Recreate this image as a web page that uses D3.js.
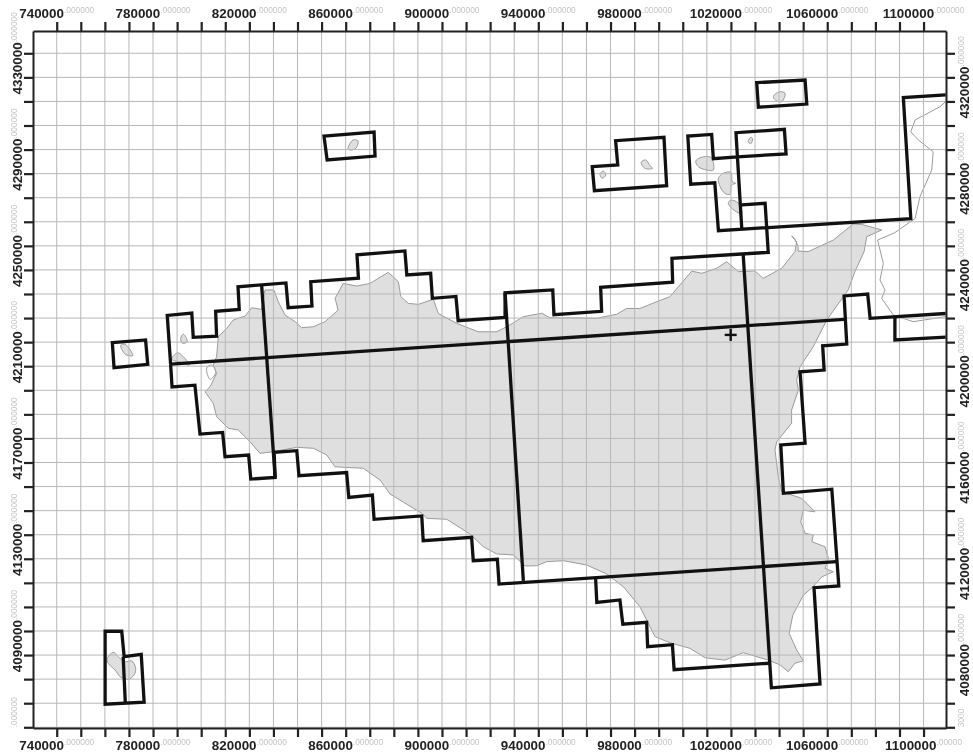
<!DOCTYPE html>
<html>
<head>
<meta charset="utf-8">
<script src="https://cdn.jsdelivr.net/npm/d3@7"></script>
<style>
html,body{margin:0;padding:0;background:#fff;}
svg{display:block;filter:blur(0.35px);}
</style>
</head>
<body>
<svg id="chart" width="973" height="753"></svg>
<script>
// All coordinates are map values in km (easting, northing).
const eastTicks = [740,750,760,770,780,790,800,810,820,830,840,850,860,870,880,890,900,910,920,930,940,950,960,970,980,990,1000,1010,1020,1030,1040,1050,1060,1070,1080,1090,1100];
const northTicks = [4050,4060,4070,4080,4090,4100,4110,4120,4130,4140,4150,4160,4170,4180,4190,4200,4210,4220,4230,4240,4250,4260,4270,4280,4290,4300,4310,4320,4330];
const eastLabels = [740,780,820,860,900,940,980,1020,1060,1100];
const leftLabels = [4090,4130,4170,4210,4250,4290,4330];
const rightLabels = [4080,4120,4160,4200,4240,4280,4320];

const sicily = [[807.1,4212.3],[810.6,4215.7],[813.3,4219.2],[818.2,4220.8],[821.0,4224.3],[825.1,4223.6],[826.5,4231.7],[830.2,4231.7],[832.0,4226.8],[834.8,4221.3],[839.0,4218.5],[841.7,4216.0],[846.6,4216.4],[851.4,4218.5],[856.9,4223.3],[855.6,4228.2],[859.0,4234.4],[864.6,4233.3],[870.1,4234.4],[877.7,4239.0],[881.9,4235.1],[882.9,4228.9],[886.0,4226.1],[890.2,4225.7],[896.4,4227.8],[898.5,4221.9],[906.1,4217.8],[915.1,4214.3],[922.7,4214.3],[927.5,4216.7],[933.8,4220.6],[941.4,4222.0],[944.9,4220.1],[954.5,4220.1],[964.3,4219.9],[972.6,4221.6],[976.7,4224.0],[982.2,4224.0],[989.2,4226.8],[994.7,4228.9],[1003.7,4239.5],[1007.9,4238.6],[1014.1,4240.7],[1018.2,4243.4],[1023.1,4239.3],[1030.0,4239.6],[1033.4,4236.5],[1041.1,4240.7],[1046.6,4247.6],[1047.3,4251.7],[1045.2,4254.1],[1046.2,4253.3],[1047.9,4249.9],[1047.9,4247.8],[1052.1,4247.6],[1062.5,4252.4],[1070.8,4259.1],[1074.3,4258.9],[1082.6,4256.6],[1076.4,4253.8],[1075.3,4247.6],[1071.5,4239.3],[1068.7,4231.7],[1059.8,4219.2],[1054.2,4208.1],[1048.7,4199.8],[1047.3,4194.3],[1048.0,4190.1],[1045.2,4181.8],[1045.2,4176.3],[1039.0,4168.6],[1038.3,4165.2],[1039.7,4154.1],[1041.1,4147.9],[1049.4,4145.1],[1054.9,4139.5],[1050.1,4140.2],[1049.0,4135.4],[1050.8,4130.6],[1054.2,4129.9],[1053.6,4127.1],[1059.1,4125.0],[1060.5,4120.2],[1059.1,4116.0],[1062.5,4114.6],[1057.7,4112.5],[1054.2,4108.4],[1050.1,4104.9],[1045.7,4096.6],[1044.2,4089.0],[1047.3,4082.1],[1050.1,4077.6],[1046.6,4076.6],[1043.8,4073.1],[1040.4,4075.9],[1035.5,4077.9],[1025.1,4081.0],[1017.5,4077.9],[1009.2,4078.9],[1003.0,4082.8],[995.4,4084.9],[988.5,4087.6],[985.0,4094.6],[982.2,4100.1],[975.3,4108.4],[968.4,4113.7],[960.1,4117.4],[950.4,4119.2],[943.5,4118.8],[939.3,4117.1],[934.5,4117.0],[929.6,4121.6],[922.7,4122.0],[917.2,4125.0],[911.6,4130.3],[902.0,4136.4],[893.7,4136.8],[891.6,4138.9],[884.0,4143.5],[878.4,4146.9],[874.3,4152.7],[867.3,4157.6],[855.6,4158.2],[852.1,4163.1],[846.6,4165.9],[839.7,4166.3],[830.0,4164.5],[824.4,4163.8],[820.3,4168.6],[815.4,4173.5],[811.3,4174.2],[806.4,4179.0],[805.0,4184.6],[801.6,4189.4],[803.7,4191.5],[806.4,4197.0],[805.0,4200.5],[806.4,4203.9]];
const marettimo = [[766.6,4208.8],[768.4,4209.1],[771.6,4204.4],[768.4,4205.0]];
const levanzo = [[791.5,4211.6],[792.6,4213.3],[794.2,4210.2],[792.2,4209.5]];
const favignana = [[787.8,4202.9],[790.1,4205.6],[792.6,4203.9],[795.1,4200.5],[791.2,4201.7]];
const ustica = [[861.0,4290.6],[863.1,4294.0],[865.1,4293.6],[864.3,4290.6],[861.8,4289.8]];
const alicudi = [[965.6,4279.7],[967.0,4281.1],[968.0,4279.4],[966.6,4278.1]];
const filicudi = [[982.7,4284.7],[984.6,4285.7],[986.4,4283.3],[987.5,4282.2],[984.3,4282.2]];
const salina = [[1005.4,4285.2],[1007.2,4286.6],[1011.7,4286.8],[1012.7,4281.5],[1009.9,4281.5],[1006.5,4282.9]];
const lipari = [[1014.8,4278.1],[1016.8,4280.1],[1020.0,4280.6],[1020.6,4276.6],[1022.0,4276.0],[1020.3,4275.3],[1019.6,4271.4],[1017.5,4271.8],[1015.5,4274.6]];
const vulcano = [[1018.9,4267.7],[1020.0,4269.0],[1023.1,4267.7],[1024.5,4263.5],[1021.7,4264.5]];
const panarea = [[1027.2,4293.3],[1028.3,4295.1],[1029.0,4294.4],[1028.2,4292.4]];
const stromboli = [[1037.6,4312.0],[1040.1,4314.0],[1042.5,4313.4],[1041.1,4309.9],[1039.0,4310.2]];
const pantelleria = [[761.0,4078.6],[763.5,4081.1],[766.3,4078.6],[768.4,4077.2],[771.1,4077.6],[772.8,4074.5],[772.1,4071.7],[769.7,4069.9],[766.6,4070.8],[764.2,4073.8],[761.4,4076.6]];
const lagoon = [[802.3,4199.3],[804.4,4200.5],[806.0,4197.3],[803.7,4194.5]];
const calabria = [[1109.2,4309.9],[1106.8,4307.8],[1096.5,4302.3],[1094.7,4297.4],[1097.8,4294.0],[1104.0,4289.1],[1103.4,4281.5],[1098.5,4270.4],[1096.5,4261.4],[1088.1,4255.5],[1080.9,4252.4],[1083.3,4242.7],[1081.9,4235.8],[1084.0,4231.7],[1082.6,4228.2],[1087.4,4221.3],[1095.7,4218.5],[1109.2,4220.6]];

const northBoundary = [[787.3,4200.9],[785.9,4221.1],[796.1,4222.1],[796.7,4212.0],[806.4,4212.5],[806.0,4222.8],[815.8,4223.6],[815.3,4233.0],[835.2,4234.6],[836.1,4224.3],[846.0,4225.0],[845.5,4235.1],[865.3,4236.6],[864.7,4246.3],[884.6,4247.9],[885.4,4237.9],[895.3,4238.6],[896.0,4228.2],[905.8,4229.0],[906.7,4218.9],[926.2,4220.3],[926.2,4230.5],[946.0,4231.7],[946.5,4221.4],[966.3,4222.8],[965.9,4232.8],[995.8,4234.9],[995.5,4244.8],[1035.5,4247.3],[1034.2,4267.7],[1024.5,4267.0]];
const aeolianBoundary = [[1109.2,4312.7],[1091.6,4311.6],[1094.7,4261.3],[1014.8,4256.3],[1013.3,4276.2],[1003.3,4275.6],[1002.1,4295.6],[1012.0,4296.3],[1012.7,4286.2],[1022.7,4287.0],[1042.9,4288.2],[1042.2,4298.4],[1022.1,4297.0],[1022.7,4287.0],[1024.5,4257.3]];
const eastBoundary = [[1109.2,4221.9],[1077.8,4219.9],[1076.8,4230.0],[1067.0,4229.2],[1068.1,4209.2],[1058.1,4208.5],[1058.7,4198.4],[1048.7,4197.7],[1050.8,4168.0],[1040.7,4167.3],[1041.8,4147.2],[1061.9,4148.9],[1064.8,4108.7],[1054.5,4108.0],[1057.0,4068.0],[1036.8,4066.4],[1025.1,4246.2]];
const strait = [[1109.2,4212.1],[1088.1,4210.9],[1088.1,4220.6]];
const southBoundary = [[787.3,4200.9],[787.9,4191.4],[797.4,4192.1],[799.5,4171.8],[808.9,4172.5],[809.9,4162.4],[819.7,4163.1],[820.6,4153.1],[830.7,4153.8],[830.3,4164.2],[839.7,4164.9],[840.6,4154.5],[860.4,4155.8],[861.3,4145.5],[871.1,4146.5],[871.8,4136.4],[891.6,4137.8],[892.2,4127.5],[912.3,4128.9],[913.0,4119.2],[923.0,4119.8],[923.7,4109.5],[1063.9,4118.8]];
const southSteps = [[963.8,4111.9],[964.3,4101.9],[973.9,4102.9],[975.1,4092.8],[985.0,4093.6],[985.4,4083.5],[995.7,4084.3],[996.4,4073.9],[1035.8,4076.6]];
const centralEW = [[787.3,4200.9],[1067.0,4219.5]];
const westNS = [[825.1,4233.7],[830.7,4153.8]];
const middleNS = [[926.2,4230.5],[933.8,4110.8]];
const boxMarettimo = [[763.1,4209.8],[776.9,4210.9],[777.8,4200.8],[763.8,4199.4]];
const boxUstica = [[851.0,4295.6],[871.8,4297.3],[872.2,4287.3],[852.3,4285.7]];
const boxAlicudi = [[962.4,4282.9],[973.0,4283.6],[972.1,4293.7],[992.2,4295.1],[993.3,4275.0],[963.3,4272.9]];
const boxStromboli = [[1030.7,4317.8],[1050.8,4318.9],[1051.5,4308.9],[1031.4,4307.6]];
const boxPantelleria = [[760.1,4089.9],[767.0,4089.9],[768.0,4079.3],[775.1,4080.3],[776.3,4060.4],[760.1,4059.6]];
const pantelleriaDivide = [[767.6,4079.3],[768.5,4059.9]];
const marker = [1019.9,4213.0];

const islands = [marettimo,levanzo,favignana,ustica,alicudi,filicudi,salina,lipari,vulcano,panarea,stromboli,pantelleria];
const openLines = [northBoundary,aeolianBoundary,eastBoundary,strait,southBoundary,southSteps,centralEW,westNS,middleNS,pantelleriaDivide];
const closedLines = [boxMarettimo,boxUstica,boxAlicudi,boxStromboli,boxPantelleria];

const svg = d3.select('#chart');
const L=33,R=946,T=31,B=728;
const x = d3.scaleLinear().domain([730.15,1109.32]).range([L,R]);
const y = d3.scaleLinear().domain([4339.26,4049.7]).range([T,B]);
const line = d3.line().x(d=>x(d[0])).y(d=>y(d[1]));
const closed = pts => line(pts)+'Z';
const blob = d3.line().x(d=>x(d[0])).y(d=>y(d[1])).curve(d3.curveCatmullRomClosed);

// land
svg.append('path').attr('d',closed(sicily)).attr('fill','#dfdfdf').attr('stroke','#9a9a9a').attr('stroke-width',1);
svg.append('g').selectAll('path').data(islands).join('path')
  .attr('d',blob).attr('fill','#dfdfdf').attr('stroke','#9a9a9a').attr('stroke-width',1);
svg.append('path').attr('d',blob(lagoon)).attr('fill','#fff').attr('stroke','#9a9a9a').attr('stroke-width',1);
svg.append('path').attr('d',line(calabria)).attr('fill','none').attr('stroke','#9a9a9a').attr('stroke-width',1);

// grid
const grid = svg.append('g').attr('stroke','#b8b8b8').attr('stroke-width',1);
grid.selectAll('.v').data(eastTicks).join('line').attr('class','v')
  .attr('x1',d=>x(d)).attr('x2',d=>x(d)).attr('y1',T).attr('y2',B);
grid.selectAll('.h').data(northTicks).join('line').attr('class','h')
  .attr('y1',d=>y(d)).attr('y2',d=>y(d)).attr('x1',L).attr('x2',R);

// boundaries
const bounds = svg.append('g').attr('fill','none').attr('stroke','#111').attr('stroke-width',3.3).attr('stroke-linejoin','miter');
bounds.selectAll('.o').data(openLines).join('path').attr('class','o').attr('d',line);
bounds.selectAll('.c').data(closedLines).join('path').attr('class','c').attr('d',closed);

// marker
const m = svg.append('g').attr('stroke','#111').attr('stroke-width',2.4);
m.append('line').attr('x1',x(marker[0])-6).attr('x2',x(marker[0])+6).attr('y1',y(marker[1])).attr('y2',y(marker[1]));
m.append('line').attr('x1',x(marker[0])).attr('x2',x(marker[0])).attr('y1',y(marker[1])-6).attr('y2',y(marker[1])+6);

// axes
function styleAxis(g){
  g.select('.domain').attr('stroke','#222').attr('stroke-width',2);
  g.selectAll('.tick line').attr('stroke','#222').attr('stroke-width',2.2);
  g.selectAll('.tick text').remove();
}
svg.append('g').attr('transform',`translate(0,${T})`).call(d3.axisTop(x).tickValues(eastTicks).tickSizeInner(9).tickSizeOuter(0)).call(styleAxis);
svg.append('g').attr('transform',`translate(0,${B})`).call(d3.axisBottom(x).tickValues(eastTicks).tickSizeInner(9).tickSizeOuter(0)).call(styleAxis);
svg.append('g').attr('transform',`translate(${L},0)`).call(d3.axisLeft(y).tickValues(northTicks).tickSizeInner(9).tickSizeOuter(0)).call(styleAxis);
svg.append('g').attr('transform',`translate(${R},0)`).call(d3.axisRight(y).tickValues(northTicks).tickSizeInner(9).tickSizeOuter(0)).call(styleAxis);

// labels
const FONT = '"Liberation Sans", Arial, sans-serif';
function label(px,py,rot,val,dec){
  const t = svg.append('text')
    .attr('transform',`translate(${px},${py})`+(rot?` rotate(${rot})`:''))
    .attr('text-anchor','middle').attr('font-family',FONT);
  t.append('tspan').attr('font-size',13.4).attr('font-weight','bold').attr('fill','#222').text(val*1000);
  t.append('tspan').attr('font-size',8.4).attr('fill','#c4c4c4').attr('dy',-5).text(dec);
  return t;
}
eastLabels.forEach(v=>{
  label(x(v),18.4,0,v,'.000000');
  label(x(v),750,0,v,v===1100?'.00000 ':'.000000');
});
leftLabels.forEach(v=>label(21.5,y(v),-90,v,'.000000'));
rightLabels.forEach(v=>label(968.5,y(v),-90,v,'.000000'));
// cut-off labels at the bottom of both side axes
svg.append('text').attr('transform',`translate(16.5,${y(4050)-14})`+' rotate(-90)').attr('text-anchor','start')
  .attr('font-family',FONT).attr('font-size',8.4).attr('fill','#c4c4c4').text('.000000').attr('dx',-14);
svg.append('text').attr('transform',`translate(963.5,${y(4050)})`+' rotate(-90)').attr('text-anchor','start')
  .attr('font-family',FONT).attr('font-size',8.4).attr('fill','#c4c4c4').text('3000');
</script>
</body>
</html>
